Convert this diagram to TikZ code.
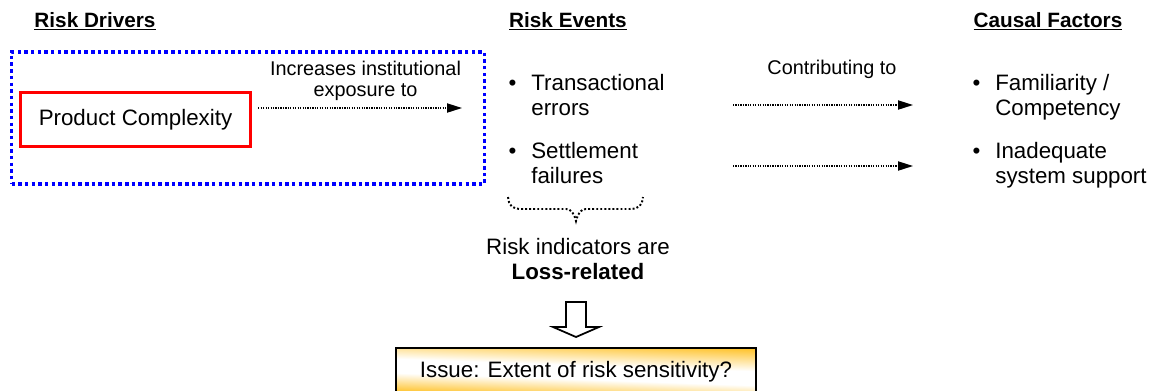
\documentclass[tikz,border=0pt]{standalone}
\usepackage{fontspec}
\setmainfont{Liberation Sans}
\usetikzlibrary{positioning}
\usetikzlibrary{arrows.meta}
\definecolor{frameblue}{RGB}{0,0,255}
\definecolor{red}{RGB}{255,0,0}
\definecolor{issueorange}{RGB}{255,196,48}
\pgfdeclareverticalshading{issueshade}{100bp}{color(0bp)=(issueorange); color(28bp)=(issueorange); color(44bp)=(white); color(56bp)=(white); color(75bp)=(issueorange); color(100bp)=(issueorange)}
\newcommand{\evbullet}{\llap{\textbullet\hspace{8.5pt}}}

\begin{document}
\begin{tikzpicture}[x=0.02cm, y=-0.02cm,
    heading/.style={font=\fontsize{11.8}{14}\selectfont\bfseries, anchor=base, inner sep=0pt},
    body/.style={font=\fontsize{12.7}{14.2}\selectfont, inner sep=0pt},
    item/.style={body, align=left, anchor=base west},
    note/.style={font=\fontsize{11.3}{12}\selectfont, align=center, inner sep=0pt},
    dots/.style={line width=0.8pt, dash pattern=on 0.7pt off 0.7pt},
    flow/.style={dots, -{Triangle[length=8.5pt,width=5.2pt]}},
]
    \useasboundingbox (0,0) rectangle (1153,390);
    \clip (0,0) rectangle (1153,390);

    % column headings
    \node[heading] (hdrivers) at (95,27) {\underline{Risk Drivers}};
    \node[heading] (hevents) at (568,27) {\underline{Risk Events}};
    \node[heading] (hfactors) at (1048,27) {\underline{Causal Factors}};

    % risk driver
    \node[draw=frameblue, line width=2pt, dash pattern=on 2pt off 1.8pt,
          minimum width=9.46cm, minimum height=2.64cm] (exposure) at (248,118) {};
    \node[body, draw=red, line width=2pt, minimum width=4.6cm, minimum height=1.08cm]
          (complexity) at (135.5,119.5) {Product Complexity\hspace{6pt}};
    \coordinate (exptip) at (462,108);
    \draw[flow, shorten <=0.12cm] (complexity.east |- exptip) --
        node[note, above=0.14cm, pos=0.54] {Increases institutional\\exposure to} (exptip);

    % risk events (base is the last line)
    \node[item] (ev1) at (531,115) {\evbullet Transactional\\errors};
    \node[item] (ev2) at (531,183) {\evbullet Settlement\\failures};

    % causal factors
    \node[item] (fac1) at (995,115) {\evbullet Familiarity /\\Competency};
    \node[item] (fac2) at (995,183) {\evbullet Inadequate\\system support};

    \coordinate (contrib1) at (733,105);
    \coordinate (contrib1tip) at (913,105);
    \coordinate (contrib2) at (733,166);
    \coordinate (contrib2tip) at (913,166);
    \draw[flow] (contrib1) -- node[note, above=0.52cm, pos=0.55] {Contributing to} (contrib1tip);
    \draw[flow] (contrib2) -- (contrib2tip);

    % brace under the events
    \coordinate (braceL) at (508,197);
    \coordinate (braceR) at (643,197);
    \draw[line width=1.1pt, dash pattern=on 1.1pt off 1.2pt]
        (braceL) .. controls (509,206) and (512,209) .. (522,209) -- (566,209)
        .. controls (571,209) and (574,213) .. (576,221)
        .. controls (578,213) and (581,209) .. (586,209) -- (629,209)
        .. controls (639,209) and (642,206) .. (braceR);

    \node[body, align=center, anchor=base] (indicators) at (578,279)
        {Risk indicators are\\\textbf{Loss-related}};

    % block arrow down to the issue
    \coordinate (downtip) at (576,337);
    \draw[line width=1pt, fill=white] (downtip) -- ++(23,-10) -- ++(-13,0) -- ++(0,-25)
        -- ++(-20,0) -- ++(0,25) -- ++(-13,0) -- cycle;

    \node[body, draw, line width=1.1pt, shading=issueshade, shading angle=-2,
          minimum width=7.2cm, minimum height=0.96cm] (issue) at (576,372)
        {Issue: Extent of risk sensitivity?};
\end{tikzpicture}
\end{document}
